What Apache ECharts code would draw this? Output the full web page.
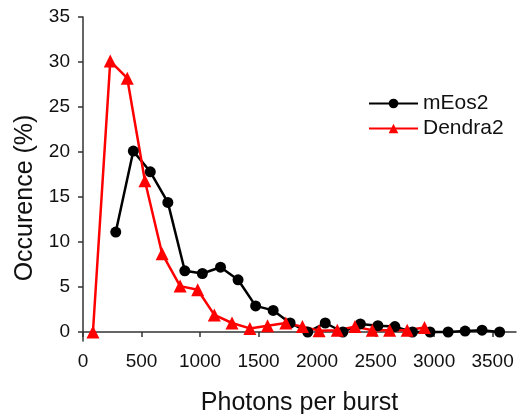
<!DOCTYPE html>
<html>
<head>
<meta charset="utf-8">
<script src="https://cdn.jsdelivr.net/npm/echarts@6/dist/echarts.min.js"></script>
<style>
  html, body { margin: 0; padding: 0; background: #fff; }
  #chart { width: 517px; height: 414px; }
</style>
</head>
<body>
<div id="chart"></div>
<script>
// photons per burst (x) and occurence in % (y)
const mEosX = [280, 430, 575, 725, 870, 1020, 1175, 1325, 1475, 1625, 1770, 1920, 2070, 2220, 2370, 2520, 2665, 2815, 2965, 3120, 3265, 3410, 3560];
const mEosY = [11.1, 20.1, 17.8, 14.4, 6.8, 6.5, 7.2, 5.8, 2.9, 2.4, 1.0, 0.0, 1.0, 0.0, 0.9, 0.7, 0.6, 0.0, 0.0, 0.0, 0.1, 0.2, 0.0];
const dendraX = [85, 233, 378, 529, 676, 830, 980, 1122, 1273, 1426, 1577, 1733, 1875, 2017, 2173, 2324, 2472, 2620, 2770, 2918];
const dendraY = [0, 30.1, 28.2, 16.8, 8.7, 5.1, 4.7, 1.9, 1.0, 0.4, 0.7, 1.0, 0.6, 0.15, 0.2, 0.6, 0.2, 0.2, 0.2, 0.5];
const xTicks = [0, 500, 1000, 1500, 2000, 2500, 3000, 3500];
const yTicks = [0, 5, 10, 15, 20, 25, 30, 35];

const font = 'Liberation Sans, Arial, sans-serif';
const axisColor = '#333';

const pairs = (xs, ys) => xs.map((x, i) => [x, ys[i]]);

const chart = echarts.init(document.getElementById('chart'));
chart.setOption({
  backgroundColor: '#fff',
  animation: false,
  grid: { left: 83, right: 1, top: 17, bottom: 73, containLabel: false, outerBoundsMode: 'none' },
  legend: {
    orient: 'vertical',
    left: 363,
    top: 88,
    itemWidth: 49,
    itemHeight: 12,
    itemGap: 4,
    textStyle: { fontFamily: font, fontSize: 21, color: '#111' },
    data: ['mEos2', 'Dendra2']
  },
  xAxis: {
    type: 'value',
    min: 0,
    max: 3700,
    name: 'Photons per burst',
    nameLocation: 'middle',
    nameGap: 50,
    nameTextStyle: { fontFamily: font, fontSize: 25, color: '#111' },
    splitLine: { show: false },
    axisLine: { show: true, lineStyle: { color: axisColor, width: 1.5 } },
    axisTick: { show: true, length: 5, customValues: xTicks, lineStyle: { color: axisColor, width: 1.5 } },
    axisLabel: { customValues: xTicks, margin: 11, fontFamily: font, fontSize: 19, color: '#111', formatter: v => String(v) }
  },
  yAxis: {
    type: 'value',
    min: -1,
    max: 35,
    name: 'Occurence (%)',
    nameLocation: 'middle',
    nameGap: 45,
    nameTextStyle: { fontFamily: font, fontSize: 25, color: '#111', padding: [0, 38, 0, 0] },
    splitLine: { show: false },
    axisLine: { show: true, lineStyle: { color: axisColor, width: 1.5 } },
    axisTick: { show: true, length: 5, customValues: yTicks, lineStyle: { color: axisColor, width: 1.5 } },
    axisLabel: { customValues: yTicks, margin: 13, fontFamily: font, fontSize: 19, color: '#111', formatter: v => String(v) }
  },
  series: [{
    name: 'mEos2',
    type: 'line',
    data: pairs(mEosX, mEosY),
    symbol: 'circle',
    symbolSize: 11,
    color: '#000',
    lineStyle: { color: '#000', width: 2.5 },
    itemStyle: { color: '#000' }
  }, {
    name: 'Dendra2',
    type: 'line',
    data: pairs(dendraX, dendraY),
    symbol: 'triangle',
    symbolSize: 13,
    color: '#ff0000',
    lineStyle: { color: '#ff0000', width: 2.5 },
    itemStyle: { color: '#ff0000' }
  }]
});
</script>
</body>
</html>
